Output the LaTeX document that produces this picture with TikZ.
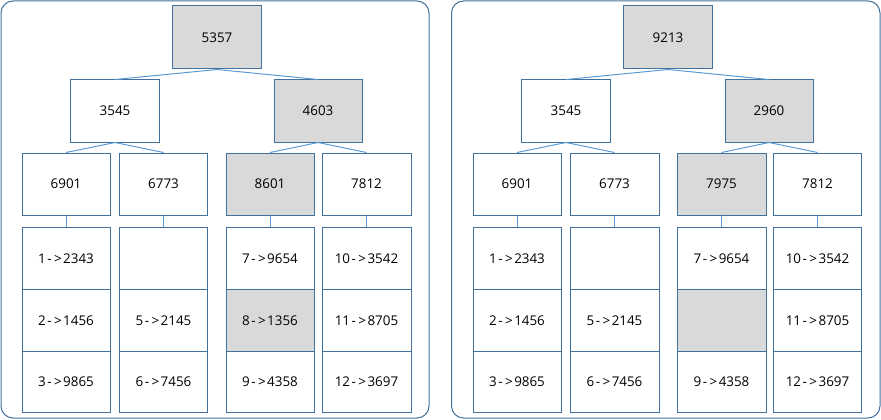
\documentclass[tikz,border=0pt]{standalone}
\usepackage{fontspec}
\setmainfont{Open Sans}
\definecolor{bordc}{HTML}{41719C}
\definecolor{edgec}{HTML}{5B9BD5}
\definecolor{greyc}{HTML}{D9D9D9}
\newcommand\arw{\kern1.5pt-\kern2.5pt>\kern1.5pt}
\begin{document}
\begin{tikzpicture}[x=1pt,y=-1pt,
  box/.style={draw=bordc, line width=1pt, fill=white, inner sep=0pt, minimum width=88pt, minimum height=62pt, font=\fontsize{13.4}{16}\selectfont},
  hl/.style={fill=greyc},
  leaf/.style={box},
  edge/.style={draw=edgec, line width=1pt},
  panel/.style={draw=bordc, line width=1pt, rounded corners=12pt}]
\useasboundingbox (0,0) rectangle (881,420);
% panels
\draw[panel] (1,1) rectangle (429,418);
\draw[panel] (451.5,1) rectangle (880,418);
% ---------- left tree ----------
\begin{scope}
\node[box,hl,minimum height=63pt,minimum width=89pt] (Lroot) at (217,37.5) {5357};
\node[box,minimum width=89.5pt] (La) at (115,111) {3545};
\node[box,hl] (Lb) at (318,111) {4603};
\node[box] (L1) at (66,184) {6901};
\node[box] (L2) at (163.5,184) {6773};
\node[box,hl] (L3) at (270,184) {8601};
\node[box,minimum width=89pt] (L4) at (366.5,184) {7812};
% leaves
\node[leaf] (L1a) at (66,258.3) {1\arw2343};
\node[leaf] (L1b) at (66,320.3) {2\arw1456};
\node[leaf,minimum height=61pt] (L1c) at (66,381.7) {3\arw9865};
\node[leaf] (L2a) at (163.5,258.3) {};
\node[leaf] (L2b) at (163.5,320.3) {5\arw2145};
\node[leaf,minimum height=61pt] (L2c) at (163.5,381.7) {6\arw7456};
\node[leaf] (L3a) at (270,258.3) {7\arw9654};
\node[leaf,hl] (L3b) at (270,320.3) {8\arw1356};
\node[leaf,minimum height=61pt] (L3c) at (270,381.7) {9\arw4358};
\node[leaf,minimum width=89pt] (L4a) at (366.5,258.3) {10\arw3542};
\node[leaf,minimum width=89pt] (L4b) at (366.5,320.3) {11\arw8705};
\node[leaf,minimum width=89pt,minimum height=61pt] (L4c) at (366.5,381.7) {12\arw3697};
\end{scope}
\draw[edge] (Lroot.south) -- (La.north);
\draw[edge] (Lroot.south) -- (Lb.north);
\draw[edge] (La.south) -- (L1.north);
\draw[edge] (La.south) -- (L2.north);
\draw[edge] (Lb.south) -- (L3.north);
\draw[edge] (Lb.south) -- (L4.north);
\draw[edge] (L1.south) -- (L1a.north);
\draw[edge] (L2.south) -- (L2a.north);
\draw[edge] (L3.south) -- (L3a.north);
\draw[edge] (L4.south) -- (L4a.north);
% ---------- right tree ----------
\begin{scope}[xshift=451pt]
\node[box,hl,minimum height=63pt,minimum width=89pt] (Rroot) at (217,37.5) {9213};
\node[box,minimum width=89.5pt] (Ra) at (115,111) {3545};
\node[box,hl] (Rb) at (318,111) {2960};
\node[box] (R1) at (66,184) {6901};
\node[box,minimum width=89pt] (R2) at (163.5,184) {6773};
\node[box,hl,minimum width=89pt] (R3) at (270.5,184) {7975};
\node[box] (R4) at (366.5,184) {7812};
% leaves
\node[leaf] (R1a) at (66,258.3) {1\arw2343};
\node[leaf] (R1b) at (66,320.3) {2\arw1456};
\node[leaf,minimum height=61pt] (R1c) at (66,381.7) {3\arw9865};
\node[leaf,minimum width=89pt] (R2a) at (163.5,258.3) {};
\node[leaf,minimum width=89pt] (R2b) at (163.5,320.3) {5\arw2145};
\node[leaf,minimum width=89pt,minimum height=61pt] (R2c) at (163.5,381.7) {6\arw7456};
\node[leaf,minimum width=89pt] (R3a) at (270.5,258.3) {7\arw9654};
\node[leaf,hl,minimum width=89pt] (R3b) at (270.5,320.3) {};
\node[leaf,minimum width=89pt,minimum height=61pt] (R3c) at (270.5,381.7) {9\arw4358};
\node[leaf] (R4a) at (366.5,258.3) {10\arw3542};
\node[leaf] (R4b) at (366.5,320.3) {11\arw8705};
\node[leaf,minimum height=61pt] (R4c) at (366.5,381.7) {12\arw3697};
\end{scope}
\draw[edge] (Rroot.south) -- (Ra.north);
\draw[edge] (Rroot.south) -- (Rb.north);
\draw[edge] (Ra.south) -- (R1.north);
\draw[edge] (Ra.south) -- (R2.north);
\draw[edge] (Rb.south) -- (R3.north);
\draw[edge] (Rb.south) -- (R4.north);
\draw[edge] (R1.south) -- (R1a.north);
\draw[edge] (R2.south) -- (R2a.north);
\draw[edge] (R3.south) -- (R3a.north);
\draw[edge] (R4.south) -- (R4a.north);
\end{tikzpicture}
\end{document}
